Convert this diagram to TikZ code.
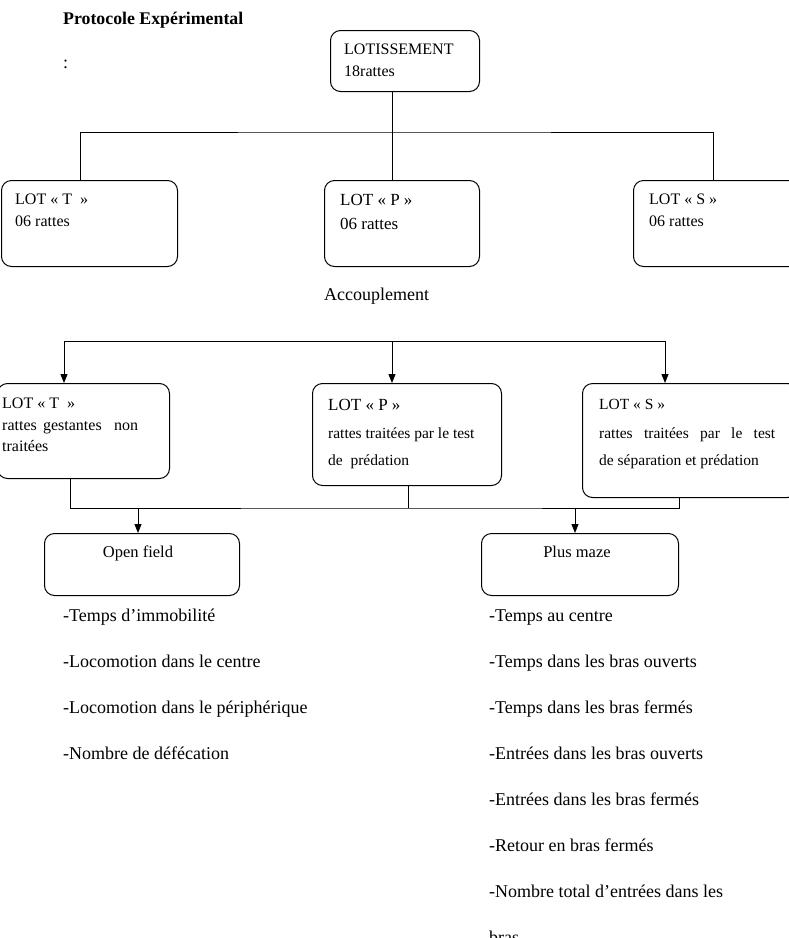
\documentclass[tikz,border=0pt]{standalone}
\usepackage{fontspec}
\setmainfont{Liberation Serif}
\usetikzlibrary{arrows.meta,calc}
\begin{document}
\begin{tikzpicture}[x=1pt,y=-1pt,
  box/.style={draw, line width=1pt, rounded corners=10pt, anchor=north west, inner sep=0pt},
  txt/.style={anchor=base west, inner sep=0pt, font=\fontsize{16}{19}\selectfont},
  txtp/.style={anchor=base west, inner sep=0pt, font=\fontsize{17}{20}\selectfont},
  txts/.style={anchor=base west, inner sep=0pt, font=\fontsize{15.5}{19}\selectfont},
  lst/.style={anchor=base west, inner sep=0pt, font=\fontsize{18}{21}\selectfont},
  ctr/.style={anchor=base, inner sep=0pt, font=\fontsize{16.5}{19}\selectfont},
  ln/.style={line width=0.9pt},
  arr/.style={ln, -{Triangle[length=9pt,width=7pt]}}]
\useasboundingbox (0,0) rectangle (788,938);

% title
\node[anchor=base west, inner sep=0pt, font=\fontsize{17.8}{21}\selectfont\bfseries] (title) at (63,24) {Protocole Expérimental};
\node[lst] (colon) at (63,68) {:};

% top box
\node[box, minimum width=149pt, minimum height=61pt] (lotis) at (330,30) {};
\node[txt] (lotisA) at (344,54) {LOTISSEMENT};
\node[txt] (lotisB) at (344,76) {18rattes};

% row 1
\node[box, minimum width=176pt, minimum height=86pt] (lotT) at (1,180) {};
\node[box, minimum width=155pt, minimum height=86pt] (lotP) at (324,180) {};
\node[box, minimum width=170pt, minimum height=86pt] (lotS) at (633,180) {};
\node[txt] (lotTa) at (15,204) {LOT « T\ \ »};
\node[txt] (lotTb) at (15,226) {06 rattes};
\node[txtp] (lotPa) at (340,205) {LOT « P »};
\node[txtp] (lotPb) at (340,229) {06 rattes};
\node[txt] (lotSa) at (649,204) {LOT « S »};
\node[txt] (lotSb) at (649,226) {06 rattes};

\coordinate (bus1) at (392,132);
\coordinate (tT) at ($(lotT.north west)+(79,0)$);
\coordinate (tP) at ($(lotP.north west)+(68,0)$);
\coordinate (tS) at ($(lotS.north west)+(80,0)$);
\draw[ln] ($(lotis.south west)+(62,0)$) -- (bus1);
\draw[ln] (tT) |- (bus1) -| (tS);
\draw[ln] (bus1) -- (tP);

\node[lst] (acc) at (324,300) {Accouplement};

% row 2
\node[box, minimum width=172pt, minimum height=95pt] (lot2T) at (-3,383) {};
\node[box, minimum width=189pt, minimum height=102pt] (lot2P) at (312,383) {};
\node[box, minimum width=215pt, minimum height=114pt] (lot2S) at (582,383) {};
\node[txt] (lot2Ta) at (2,408) {LOT « T\ \ »};
\node[txt] (lot2Tb) at (2,430) {\makebox[136pt][s]{rattes gestantes \ non}};
\node[txt] (lot2Tc) at (2,451) {traitées};
\node[txtp] (lot2Pa) at (328,410) {LOT « P »};
\node[txts] (lot2Pb) at (328,438) {rattes traitées par le test};
\node[txts] (lot2Pc) at (328,465) {de\ \ prédation};
\node[txts] (lot2Sa) at (599,409) {LOT « S »};
\node[txts] (lot2Sb) at (599,438) {\makebox[176pt][s]{rattes traitées par le test}};
\node[txts] (lot2Sc) at (599,465) {de séparation et prédation};

\coordinate (bus2) at (392,341);
\coordinate (t2T) at ($(lot2T.north west)+(67,0)$);
\coordinate (t2P) at ($(lot2P.north west)+(80,0)$);
\coordinate (t2S) at ($(lot2S.north west)+(83,0)$);
\draw[arr] (bus2) -| (t2T);
\draw[arr] (bus2) -| (t2S);
\draw[arr] (bus2) -- (t2P);

% merge
\coordinate (bus3) at (408,508);
\coordinate (b2T) at ($(lot2T.south west)+(73,0)$);
\coordinate (b2P) at ($(lot2P.south west)+(96,0)$);
\coordinate (b2S) at ($(lot2S.south west)+(97,0)$);
\draw[ln] (b2T) |- (bus3) -| (b2S);
\draw[ln] (b2P) -- (bus3);

% row 3
\node[box, minimum width=195pt, minimum height=62pt] (of) at (44,533) {};
\node[box, minimum width=197pt, minimum height=62pt] (pm) at (481,533) {};
\node[ctr] (ofT) at (138,557) {Open field};
\node[ctr] (pmT) at (577,557) {Plus maze};
\coordinate (aOf) at ($(of.north west)+(94,0)$);
\coordinate (aPm) at ($(pm.north west)+(94,0)$);
\draw[arr] (aOf |- bus3) -- (aOf);
\draw[arr] (aPm |- bus3) -- (aPm);

% lists
\node[lst] (l1) at (63,621) {-Temps d’immobilité};
\node[lst] (l2) at (63,667) {-Locomotion dans le centre};
\node[lst] (l3) at (63,713) {-Locomotion dans le périphérique};
\node[lst] (l4) at (63,759) {-Nombre de défécation};

\node[lst] (r1) at (489,621) {-Temps au centre};
\node[lst] (r2) at (489,667) {-Temps dans les bras ouverts};
\node[lst] (r3) at (489,713) {-Temps dans les bras fermés};
\node[lst] (r4) at (489,759) {-Entrées dans les bras ouverts};
\node[lst] (r5) at (489,805) {-Entrées dans les bras fermés};
\node[lst] (r6) at (489,851) {-Retour en bras fermés};
\node[lst] (r7) at (489,897) {-Nombre total d’entrées dans les};
\node[lst] (r8) at (489,943) {bras};
\end{tikzpicture}
\end{document}
